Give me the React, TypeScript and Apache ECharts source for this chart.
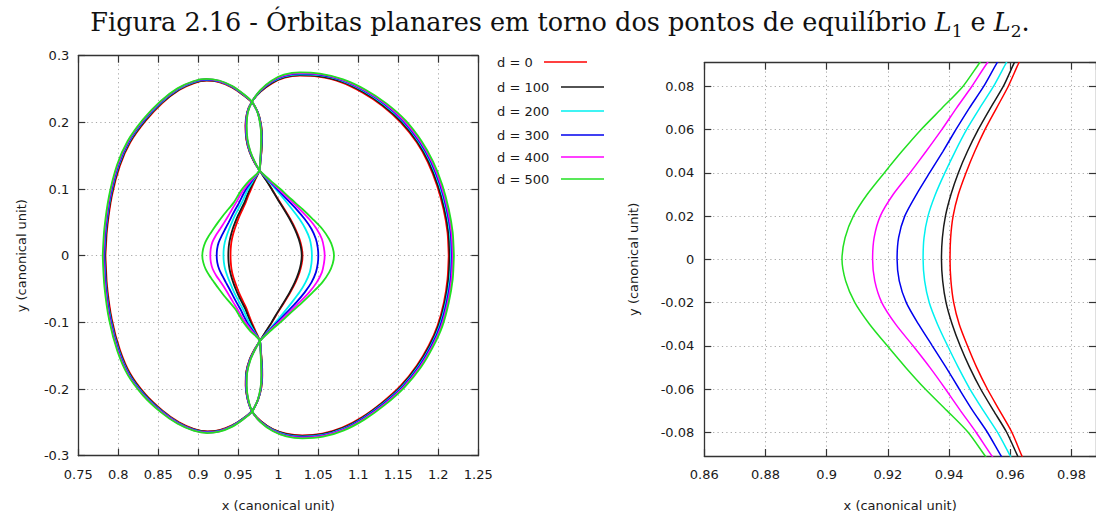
import React, { useEffect, useRef } from "react";
import * as echarts from "echarts";

type P = [number, number];

const dValues = [0, 100, 200, 300, 400, 500];
const curveColors = ["#ff0000", "#1a1a1a", "#00f0f0", "#0000ee", "#ff00ff", "#22e022"];

const titleText =
  "{n|Figura 2.16 - Órbitas planares em torno dos pontos de equilíbrio }{i|L}{s|1}{n| e }{i|L}{s|2}{n|.}";
const xAxisTitle = "x (canonical unit)";
const yAxisTitle = "y (canonical unit)";

// ---- left loops, one per d ----
const leftLoopD0: P[] = [
  [0.784, 0], [0.786, 0.04], [0.792, 0.09], [0.802, 0.135], [0.815, 0.17], [0.834, 0.202], [0.855, 0.229], [0.876, 0.2485], [0.895, 0.259], [0.9105, 0.2625], [0.926, 0.2605], [0.942, 0.2525], [0.956, 0.241], [0.967, 0.23],
  [0.9745, 0.215], [0.9785, 0.197], [0.9798, 0.178], [0.9792, 0.159], [0.9778, 0.142], [0.9765, 0.128],
  [0.9708, 0.113], [0.966, 0.1], [0.9628, 0.091], [0.9593, 0.08], [0.9555, 0.07], [0.9517, 0.06], [0.9484, 0.05], [0.9455, 0.04], [0.943, 0.03], [0.9413, 0.02], [0.9405, 0.01], [0.9403, 0],
  [0.9406, -0.01], [0.9415, -0.02], [0.9433, -0.03], [0.946, -0.04], [0.949, -0.05], [0.9525, -0.06], [0.9565, -0.07], [0.9605, -0.08], [0.9638, -0.091], [0.9668, -0.1], [0.9715, -0.113], [0.977, -0.128],
  [0.9782, -0.142], [0.9795, -0.16], [0.98, -0.179], [0.9788, -0.198], [0.9748, -0.216], [0.967, -0.233],
  [0.956, -0.244], [0.942, -0.2545], [0.9265, -0.2615], [0.9115, -0.2635], [0.895, -0.26], [0.876, -0.25], [0.855, -0.232], [0.834, -0.208], [0.815, -0.177], [0.802, -0.141], [0.792, -0.096], [0.786, -0.046], [0.784, 0],
];
const leftLoopD100: P[] = [
  [0.7833, 0], [0.7853, 0.04], [0.7913, 0.09], [0.8013, 0.1355], [0.8143, 0.1705], [0.8334, 0.2025], [0.8545, 0.2295], [0.8756, 0.249], [0.8947, 0.2597], [0.9104, 0.2631], [0.926, 0.261], [0.9421, 0.253], [0.9561, 0.2413], [0.967, 0.2302],
  [0.9744, 0.215], [0.9783, 0.197], [0.9795, 0.178], [0.979, 0.159], [0.9777, 0.142], [0.9765, 0.128],
  [0.97, 0.113], [0.9645, 0.1], [0.9613, 0.091], [0.9577, 0.08], [0.9535, 0.07], [0.9495, 0.06], [0.946, 0.05], [0.943, 0.04], [0.9406, 0.03], [0.9388, 0.02], [0.9378, 0.01], [0.9375, 0],
  [0.9379, -0.01], [0.939, -0.02], [0.941, -0.03], [0.9436, -0.04], [0.9467, -0.05], [0.9503, -0.06], [0.9545, -0.07], [0.9588, -0.08], [0.9624, -0.091], [0.9655, -0.1], [0.9707, -0.113], [0.977, -0.128],
  [0.9781, -0.142], [0.9793, -0.16], [0.9797, -0.179], [0.9786, -0.198], [0.9747, -0.216], [0.967, -0.2332],
  [0.956, -0.2443], [0.942, -0.255], [0.9265, -0.262], [0.9115, -0.2641], [0.8948, -0.2606], [0.8756, -0.2505], [0.8545, -0.2325], [0.8334, -0.2085], [0.8143, -0.1775], [0.8013, -0.1415], [0.7913, -0.0962], [0.7853, -0.046], [0.7833, 0],
];
const leftLoopD200: P[] = [
  [0.7825, 0], [0.7845, 0.04], [0.7905, 0.09], [0.8005, 0.1358], [0.8135, 0.171], [0.8326, 0.2032], [0.8538, 0.2302], [0.875, 0.2497], [0.8943, 0.2604], [0.9102, 0.2638], [0.926, 0.2616], [0.9422, 0.2535], [0.9562, 0.2417], [0.967, 0.2304],
  [0.9743, 0.215], [0.978, 0.197], [0.9792, 0.178], [0.9787, 0.159], [0.9776, 0.142], [0.9765, 0.128],
  [0.9688, 0.113], [0.9623, 0.1], [0.9587, 0.091], [0.9545, 0.08], [0.95, 0.07], [0.9457, 0.06], [0.942, 0.05], [0.9386, 0.04], [0.9355, 0.03], [0.9331, 0.02], [0.9318, 0.01], [0.9315, 0],
  [0.932, -0.01], [0.9335, -0.02], [0.9362, -0.03], [0.9395, -0.04], [0.943, -0.05], [0.9468, -0.06], [0.9512, -0.07], [0.9558, -0.08], [0.96, -0.091], [0.9635, -0.1], [0.9695, -0.113], [0.977, -0.128],
  [0.978, -0.142], [0.979, -0.16], [0.9794, -0.179], [0.9784, -0.198], [0.9746, -0.216], [0.967, -0.2334],
  [0.956, -0.2447], [0.942, -0.2555], [0.9265, -0.2626], [0.9114, -0.2647], [0.8946, -0.2612], [0.8752, -0.251], [0.854, -0.233], [0.8328, -0.209], [0.8136, -0.178], [0.8006, -0.142], [0.7906, -0.0964], [0.7846, -0.046], [0.7825, 0],
];
const leftLoopD300: P[] = [
  [0.782, 0], [0.784, 0.04], [0.79, 0.09], [0.8, 0.136], [0.813, 0.1714], [0.8321, 0.2037], [0.8534, 0.2307], [0.8747, 0.2502], [0.8941, 0.2609], [0.9101, 0.2643], [0.926, 0.262], [0.9423, 0.2538], [0.9563, 0.242], [0.9671, 0.2306],
  [0.9742, 0.215], [0.9778, 0.197], [0.979, 0.178], [0.9785, 0.159], [0.9775, 0.142], [0.9765, 0.128],
  [0.9675, 0.113], [0.9598, 0.1], [0.9557, 0.091], [0.9513, 0.08], [0.9466, 0.07], [0.9422, 0.06], [0.938, 0.05], [0.9336, 0.04], [0.9293, 0.03], [0.9255, 0.02], [0.9235, 0.01], [0.923, 0],
  [0.9237, -0.01], [0.926, -0.02], [0.93, -0.03], [0.9345, -0.04], [0.939, -0.05], [0.9433, -0.06], [0.9477, -0.07], [0.9525, -0.08], [0.957, -0.091], [0.961, -0.1], [0.9683, -0.113], [0.977, -0.128],
  [0.9779, -0.142], [0.9788, -0.16], [0.9792, -0.179], [0.9782, -0.198], [0.9745, -0.216], [0.9671, -0.2336],
  [0.956, -0.245], [0.942, -0.2559], [0.9264, -0.263], [0.9113, -0.2651], [0.8945, -0.2616], [0.8749, -0.2514], [0.8536, -0.2334], [0.8323, -0.2094], [0.8131, -0.1784], [0.8001, -0.1423], [0.7901, -0.0966], [0.7841, -0.046], [0.782, 0],
];
const leftLoopD400: P[] = [
  [0.7813, 0], [0.7833, 0.04], [0.7893, 0.09], [0.7993, 0.1362], [0.8124, 0.1717], [0.8316, 0.2041], [0.853, 0.2311], [0.8744, 0.2506], [0.8939, 0.2613], [0.9101, 0.2648], [0.926, 0.2624], [0.9424, 0.2541], [0.9564, 0.2422], [0.9671, 0.2308],
  [0.9741, 0.215], [0.9776, 0.197], [0.9788, 0.178], [0.9783, 0.159], [0.9774, 0.142], [0.9765, 0.128],
  [0.9662, 0.113], [0.9575, 0.1], [0.9525, 0.091], [0.9474, 0.08], [0.9424, 0.07], [0.9376, 0.06], [0.9325, 0.05], [0.9272, 0.04], [0.9217, 0.03], [0.9175, 0.02], [0.9155, 0.01], [0.915, 0],
  [0.9157, -0.01], [0.918, -0.02], [0.9225, -0.03], [0.9282, -0.04], [0.9337, -0.05], [0.9388, -0.06], [0.9437, -0.07], [0.9488, -0.08], [0.954, -0.091], [0.9588, -0.1], [0.967, -0.113], [0.977, -0.128],
  [0.9778, -0.142], [0.9786, -0.16], [0.979, -0.179], [0.978, -0.198], [0.9744, -0.216], [0.9671, -0.2338],
  [0.956, -0.2453], [0.942, -0.2563], [0.9264, -0.2634], [0.9112, -0.2655], [0.8943, -0.262], [0.8746, -0.2518], [0.8532, -0.2338], [0.8318, -0.2098], [0.8126, -0.1788], [0.7995, -0.1426], [0.7894, -0.0968], [0.7834, -0.046], [0.7813, 0],
];
const leftLoopD500: P[] = [
  [0.7805, 0], [0.7825, 0.04], [0.7885, 0.09], [0.7985, 0.1365], [0.8117, 0.172], [0.831, 0.2045], [0.8525, 0.2315], [0.874, 0.251], [0.8936, 0.2617], [0.91, 0.2652], [0.926, 0.2628], [0.9425, 0.2545], [0.9565, 0.2425], [0.9672, 0.231],
  [0.974, 0.215], [0.9774, 0.197], [0.9786, 0.178], [0.9781, 0.159], [0.9773, 0.142], [0.9765, 0.128],
  [0.964, 0.113], [0.9548, 0.1], [0.95, 0.091], [0.9445, 0.08], [0.9377, 0.07], [0.9308, 0.06], [0.9246, 0.05], [0.9188, 0.04], [0.9132, 0.03], [0.9087, 0.02], [0.906, 0.01], [0.905, 0],
  [0.9062, -0.01], [0.9092, -0.02], [0.914, -0.03], [0.9198, -0.04], [0.9258, -0.05], [0.9322, -0.06], [0.9393, -0.07], [0.9462, -0.08], [0.9518, -0.091], [0.9565, -0.1], [0.965, -0.113], [0.977, -0.128],
  [0.9777, -0.142], [0.9784, -0.16], [0.9788, -0.179], [0.9778, -0.198], [0.9743, -0.216], [0.9672, -0.234],
  [0.956, -0.2456], [0.942, -0.2567], [0.9263, -0.2638], [0.9111, -0.266], [0.8941, -0.2624], [0.8742, -0.2522], [0.8527, -0.2342], [0.8313, -0.2102], [0.812, -0.1792], [0.7988, -0.143], [0.7887, -0.097], [0.7826, -0.046], [0.7805, 0],
];

// ---- right loops, one per d ----
const rightLoopD0: P[] = [
  [1.213, 0], [1.2115, 0.035], [1.2065, 0.07], [1.1985, 0.105], [1.187, 0.14], [1.173, 0.17], [1.153, 0.2], [1.13, 0.225], [1.105, 0.245], [1.078, 0.2605], [1.05, 0.2685], [1.027, 0.27], [1.008, 0.267], [0.993, 0.259], [0.978, 0.246], [0.967, 0.231], [0.961, 0.215], [0.959, 0.195], [0.96, 0.175], [0.964, 0.156], [0.97, 0.14], [0.9765, 0.128],
  [0.985, 0.113], [0.992, 0.1], [0.9995, 0.085], [1.0075, 0.07], [1.015, 0.055], [1.0215, 0.04], [1.0265, 0.025], [1.0293, 0.012], [1.0303, 0], [1.0293, -0.012], [1.0265, -0.025], [1.0215, -0.04], [1.015, -0.055], [1.0075, -0.07], [0.9995, -0.085], [0.992, -0.1], [0.985, -0.113], [0.977, -0.128],
  [0.9705, -0.14], [0.964, -0.156], [0.9598, -0.175], [0.9592, -0.195], [0.9615, -0.215], [0.967, -0.233], [0.978, -0.248], [0.993, -0.26], [1.01, -0.267], [1.03, -0.2695], [1.055, -0.267], [1.08, -0.258], [1.105, -0.242], [1.13, -0.22], [1.153, -0.195], [1.173, -0.165], [1.188, -0.135], [1.199, -0.105], [1.207, -0.07], [1.2115, -0.035], [1.213, 0],
];
const rightLoopD100: P[] = [
  [1.2142, 0], [1.2127, 0.035], [1.2077, 0.0702], [1.1997, 0.1053], [1.1882, 0.1405], [1.1741, 0.1706], [1.154, 0.2007], [1.1309, 0.2258], [1.1058, 0.2458], [1.0786, 0.2614], [1.0504, 0.2694], [1.027, 0.2709], [1.0079, 0.2678], [0.9928, 0.2597], [0.9779, 0.2465], [0.967, 0.231], [0.9611, 0.215], [0.9592, 0.195], [0.9602, 0.175], [0.9642, 0.156], [0.9701, 0.1405], [0.9765, 0.128],
  [0.9848, 0.113], [0.9916, 0.1], [0.999, 0.085], [1.0068, 0.07], [1.0142, 0.055], [1.0206, 0.04], [1.0255, 0.025], [1.0283, 0.012], [1.0293, 0], [1.0283, -0.012], [1.0255, -0.025], [1.0206, -0.04], [1.0142, -0.055], [1.0068, -0.07], [0.999, -0.085], [0.9916, -0.1], [0.9848, -0.113], [0.977, -0.128],
  [0.9706, -0.1405], [0.9642, -0.156], [0.96, -0.175], [0.9594, -0.195], [0.9616, -0.215], [0.967, -0.2332], [0.978, -0.2484], [0.993, -0.2605], [1.01, -0.2677], [1.03, -0.2702], [1.0552, -0.2677], [1.0803, -0.2587], [1.1055, -0.2426], [1.1307, -0.2206], [1.1538, -0.1955], [1.1739, -0.1654], [1.189, -0.1353], [1.2001, -0.1052], [1.2081, -0.0701], [1.2127, -0.035], [1.2142, 0],
];
const rightLoopD200: P[] = [
  [1.216, 0], [1.2145, 0.035], [1.2095, 0.0703], [1.2015, 0.1055], [1.19, 0.1407], [1.1757, 0.1711], [1.1556, 0.2015], [1.1322, 0.2268], [1.1068, 0.247], [1.0794, 0.2626], [1.051, 0.2708], [1.027, 0.2722], [1.0076, 0.269], [0.9923, 0.2608], [0.9778, 0.2472], [0.9671, 0.231], [0.9613, 0.215], [0.9596, 0.195], [0.9606, 0.175], [0.9644, 0.1562], [0.9702, 0.1407], [0.9765, 0.128],
  [0.987, 0.113], [0.9965, 0.1], [1.007, 0.085], [1.017, 0.07], [1.0265, 0.055], [1.034, 0.04], [1.0393, 0.025], [1.0414, 0.012], [1.042, 0], [1.0414, -0.012], [1.0393, -0.025], [1.034, -0.04], [1.0265, -0.055], [1.017, -0.07], [1.007, -0.085], [0.9965, -0.1], [0.987, -0.113], [0.977, -0.128],
  [0.9707, -0.1407], [0.9645, -0.1562], [0.9604, -0.175], [0.9598, -0.195], [0.9618, -0.215], [0.9671, -0.2334], [0.978, -0.2489], [0.993, -0.2613], [1.01, -0.2688], [1.03, -0.2713], [1.0554, -0.2688], [1.0808, -0.2597], [1.1062, -0.2433], [1.1316, -0.2213], [1.155, -0.1961], [1.1752, -0.1659], [1.1904, -0.1356], [1.2015, -0.1054], [1.2095, -0.0702], [1.2145, -0.0351], [1.216, 0],
];
const rightLoopD300: P[] = [
  [1.217, 0], [1.2155, 0.035], [1.2105, 0.0704], [1.2025, 0.1056], [1.191, 0.1408], [1.1766, 0.1713], [1.1565, 0.2019], [1.133, 0.2274], [1.1074, 0.2477], [1.0799, 0.2633], [1.0513, 0.2716], [1.027, 0.273], [1.0074, 0.2697], [0.992, 0.2614], [0.9777, 0.2476], [0.9671, 0.231], [0.9615, 0.215], [0.9598, 0.195], [0.9608, 0.175], [0.9646, 0.1564], [0.9703, 0.1408], [0.9765, 0.128],
  [0.988, 0.113], [0.9985, 0.1], [1.0105, 0.085], [1.0225, 0.07], [1.033, 0.055], [1.0415, 0.04], [1.047, 0.025], [1.0493, 0.012], [1.05, 0], [1.0493, -0.012], [1.047, -0.025], [1.0415, -0.04], [1.033, -0.055], [1.0225, -0.07], [1.0105, -0.085], [0.9985, -0.1], [0.988, -0.113], [0.977, -0.128],
  [0.9708, -0.1408], [0.9646, -0.1564], [0.9606, -0.175], [0.96, -0.195], [0.962, -0.215], [0.9671, -0.2336], [0.978, -0.2492], [0.993, -0.2618], [1.01, -0.2695], [1.03, -0.272], [1.0556, -0.2695], [1.0812, -0.2603], [1.1067, -0.2438], [1.1323, -0.2217], [1.1558, -0.1964], [1.1761, -0.1662], [1.1913, -0.1358], [1.2025, -0.1055], [1.2105, -0.0703], [1.2155, -0.0352], [1.217, 0],
];
const rightLoopD400: P[] = [
  [1.218, 0], [1.2165, 0.035], [1.2115, 0.0705], [1.2035, 0.1058], [1.192, 0.141], [1.1776, 0.1716], [1.1574, 0.2022], [1.1338, 0.2278], [1.108, 0.2482], [1.0803, 0.2638], [1.0516, 0.2722], [1.027, 0.274], [1.0072, 0.2705], [0.9917, 0.2618], [0.9776, 0.248], [0.9671, 0.231], [0.9617, 0.215], [0.96, 0.195], [0.9611, 0.175], [0.9648, 0.1566], [0.9704, 0.1409], [0.9765, 0.128],
  [0.9888, 0.113], [1.0005, 0.1], [1.0135, 0.085], [1.0265, 0.07], [1.0385, 0.055], [1.048, 0.04], [1.0545, 0.025], [1.057, 0.012], [1.058, 0], [1.057, -0.012], [1.0545, -0.025], [1.048, -0.04], [1.0385, -0.055], [1.0265, -0.07], [1.0135, -0.085], [1.0005, -0.1], [0.9888, -0.113], [0.977, -0.128],
  [0.9709, -0.1409], [0.9648, -0.1566], [0.9609, -0.175], [0.9602, -0.195], [0.9622, -0.215], [0.9672, -0.2338], [0.978, -0.2496], [0.993, -0.2624], [1.01, -0.2703], [1.03, -0.273], [1.0558, -0.2703], [1.0816, -0.261], [1.1073, -0.2445], [1.1331, -0.2223], [1.1568, -0.1968], [1.1772, -0.1666], [1.1924, -0.1362], [1.2037, -0.1058], [1.2117, -0.0704], [1.2165, -0.0353], [1.218, 0],
];
const rightLoopD500: P[] = [
  [1.2195, 0], [1.218, 0.035], [1.213, 0.07], [1.205, 0.106], [1.1935, 0.141], [1.179, 0.172], [1.159, 0.203], [1.135, 0.2285], [1.109, 0.249], [1.081, 0.2645], [1.052, 0.273], [1.027, 0.275], [1.007, 0.2715], [0.9915, 0.2625], [0.9775, 0.2485], [0.9672, 0.231], [0.962, 0.215], [0.9605, 0.195], [0.9615, 0.175], [0.965, 0.157], [0.9705, 0.141], [0.9765, 0.128],
  [0.99, 0.113], [1.0025, 0.1], [1.016, 0.085], [1.03, 0.07], [1.043, 0.055], [1.055, 0.04], [1.0635, 0.025], [1.068, 0.012], [1.0696, 0], [1.068, -0.012], [1.0635, -0.025], [1.055, -0.04], [1.043, -0.055], [1.03, -0.07], [1.016, -0.085], [1.0025, -0.1], [0.99, -0.113], [0.977, -0.128],
  [0.971, -0.141], [0.965, -0.157], [0.9612, -0.175], [0.9605, -0.195], [0.9625, -0.215], [0.9672, -0.233], [0.978, -0.25], [0.993, -0.263], [1.01, -0.271], [1.03, -0.274], [1.056, -0.2715], [1.082, -0.262], [1.108, -0.2455], [1.134, -0.223], [1.158, -0.197], [1.1785, -0.167], [1.1935, -0.1365], [1.205, -0.106], [1.213, -0.0705], [1.218, -0.0355], [1.2195, 0],
];

const leftLoops = [leftLoopD0, leftLoopD100, leftLoopD200, leftLoopD300, leftLoopD400, leftLoopD500];
const rightLoops = [rightLoopD0, rightLoopD100, rightLoopD200, rightLoopD300, rightLoopD400, rightLoopD500];

// axis ranges
const leftXRange = { min: 0.75, max: 1.25, interval: 0.05 };
const leftYRange = { min: -0.3, max: 0.3, interval: 0.1 };
const rightXRange = { min: 0.86, max: 0.988, interval: 0.02 };
const rightYRange = { min: -0.091, max: 0.091, splitNumber: 9 };

const FONT = "DejaVu Sans";
const TXT = "#1a1a1a";
const AXIS_COLOR = "#333";

function axisCommon(gridIndex: number, showLabels: boolean, split: boolean) {
  return {
    gridIndex,
    type: "value" as const,
    axisLine: { show: true, onZero: false, lineStyle: { color: AXIS_COLOR, width: 1.3 } },
    axisTick: { show: true, inside: true, length: 7, lineStyle: { color: AXIS_COLOR, width: 1.2 } },
    axisLabel: { show: showLabels, fontFamily: FONT, fontSize: 13, color: TXT, showMinLabel: true, showMaxLabel: true },
    splitLine: { show: split, lineStyle: { color: "#a8a8a8", width: 1, type: [1.2, 3.2] as any } },
    nameTextStyle: { fontFamily: FONT, fontSize: 13, color: TXT },
  };
}

export default function App() {
  const ref = useRef<HTMLDivElement>(null);
  useEffect(() => {
    if (!ref.current) return;
    const chart = echarts.init(ref.current, undefined, { renderer: "svg" });

    const xAxes: any[] = [
      { ...axisCommon(0, true, true), ...leftXRange, position: "bottom", name: xAxisTitle, nameLocation: "middle", nameGap: 43,
        axisLabel: { ...axisCommon(0, true, true).axisLabel, margin: 12 } },
      { ...axisCommon(0, false, false), ...leftXRange, position: "top" },
      { ...axisCommon(1, true, true), ...rightXRange, position: "bottom", name: xAxisTitle, nameLocation: "middle", nameGap: 43,
        axisLabel: { ...axisCommon(1, true, true).axisLabel, margin: 12, showMaxLabel: false } },
      { ...axisCommon(1, false, false), ...rightXRange, position: "top" },
    ];
    const yAxes: any[] = [
      { ...axisCommon(0, true, true), ...leftYRange, position: "left", name: yAxisTitle, nameLocation: "middle", nameGap: 50,
        axisLabel: { ...axisCommon(0, true, true).axisLabel, margin: 9 } },
      { ...axisCommon(0, false, false), ...leftYRange, position: "right" },
      { ...axisCommon(1, true, true), ...rightYRange, position: "left", name: yAxisTitle, nameLocation: "middle", nameGap: 64,
        axisLabel: { ...axisCommon(1, true, true).axisLabel, margin: 10, showMinLabel: false, showMaxLabel: false } },
      { ...axisCommon(1, false, false), ...rightYRange, position: "right" },
    ];

    const series: any[] = [];
    [0, 1].forEach((g) => {
      dValues.forEach((d, i) => {
        [leftLoops[i], rightLoops[i]].forEach((loop) => {
          series.push({
            type: "line",
            name: `d = ${d}`,
            xAxisIndex: g * 2,
            yAxisIndex: g * 2,
            data: loop,
            showSymbol: false,
            symbol: "none",
            smooth: 0.25,
            clip: true,
            silent: true,
            lineStyle: { color: curveColors[i], width: g === 0 ? 1.8 : 1.5 },
            z: 2 + i,
          });
        });
      });
    });

    const legendRows = [62, 87, 111, 135, 157, 179];
    const legendGraphics: any[] = [];
    dValues.forEach((d, i) => {
      legendGraphics.push({
        type: "text", x: 497, y: legendRows[i],
        style: { text: `d = ${d}`, fontFamily: FONT, fontSize: 13, fill: TXT, align: "left", verticalAlign: "middle" },
      });
      legendGraphics.push({
        type: "line",
        shape: { x1: i === 0 ? 544 : 561, y1: legendRows[i], x2: i === 0 ? 587 : 604, y2: legendRows[i] },
        style: { stroke: curveColors[i], lineWidth: 1.5 },
      });
    });

    chart.setOption({
      animation: false,
      backgroundColor: "#ffffff",
      grid: [
        { left: 78.3, top: 55.7, width: 400, height: 400 },
        { left: 704.3, top: 62.7, width: 393, height: 394 },
      ],
      xAxis: xAxes,
      yAxis: yAxes,
      series,
      graphic: [
        {
          type: "text", x: 560, y: 22,
          style: {
            text: titleText, align: "center", verticalAlign: "middle",
            rich: {
              n: { fontFamily: "DejaVu Serif", fontSize: 25.5, fill: "#111", lineHeight: 34, verticalAlign: "middle" },
              i: { fontFamily: "DejaVu Serif", fontStyle: "italic", fontSize: 25.5, fill: "#111", lineHeight: 34, verticalAlign: "middle" },
              s: { fontFamily: "DejaVu Serif", fontSize: 17, fill: "#111", lineHeight: 18, verticalAlign: "bottom" },
            },
          },
        },
        ...legendGraphics,
      ],
    });
    return () => chart.dispose();
  }, []);
  return <div ref={ref} style={{ position: "absolute", left: 0, top: 0, width: 1096, height: 517, background: "#fff" }} />;
}
